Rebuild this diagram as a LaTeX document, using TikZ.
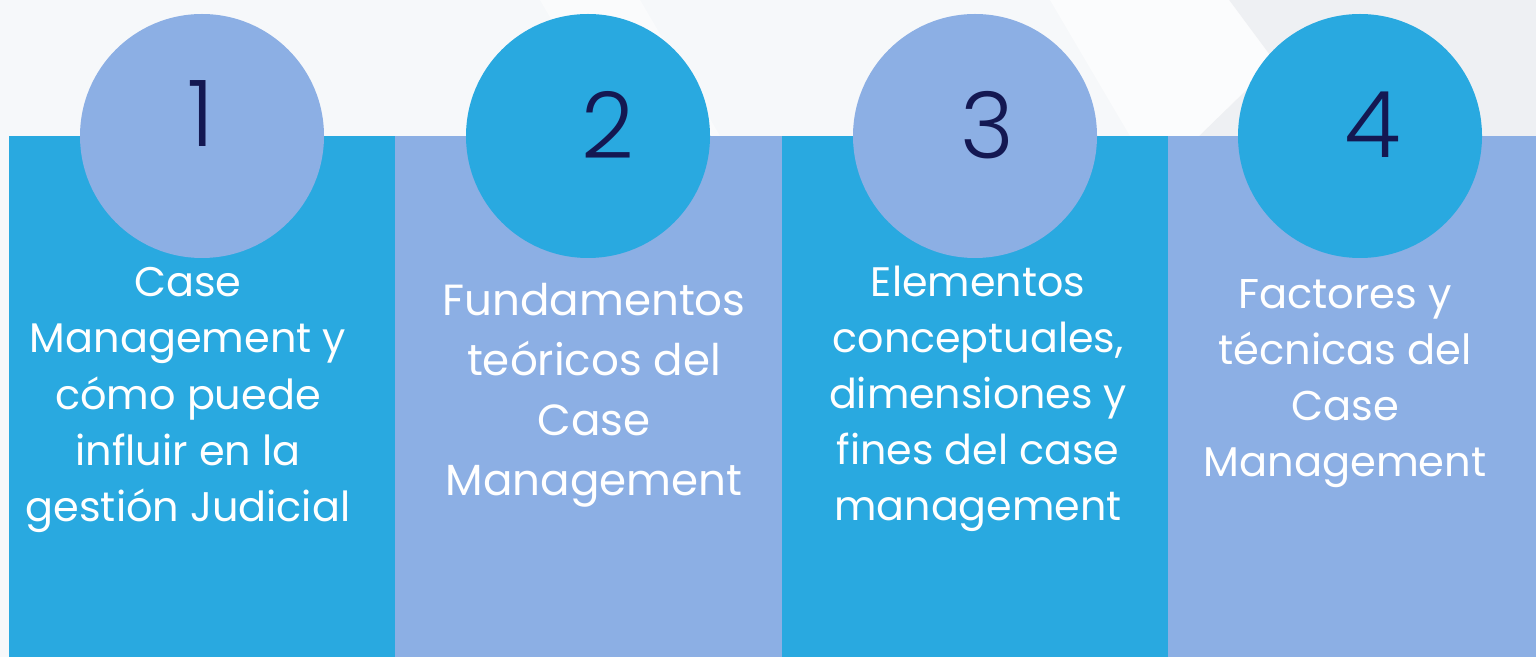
\documentclass[tikz,border=0pt]{standalone}
\usepackage{fontspec}
\setmainfont{Poppins}
\newfontfamily\numfont{Poppins Light}
\definecolor{bgc}{HTML}{F6F8FA}
\definecolor{bgd}{HTML}{EEF0F3}
\definecolor{bluec}{HTML}{29A9E0}
\definecolor{lightc}{HTML}{8CAFE4}
\definecolor{navy}{HTML}{141852}
\tikzset{
  colbox/.style={draw=none},
  numcirc/.style={circle, draw=none, minimum size=244*0.5pt, inner sep=0pt},
  numtxt/.style={text=navy, font=\numfont\fontsize{46}{46}\selectfont, inner sep=0pt},
  coltxt/.style={text=white, align=center, inner sep=0pt},
}
\begin{document}
\begin{tikzpicture}[x=0.5pt,y=-0.5pt]
\useasboundingbox (0,0) rectangle (1536,657);
\fill[bgc] (0,0) rectangle (1536,657);
% subtle background shapes
\fill[white,opacity=0.5] (540,0) -- (640,0) -- (720,136) -- (620,136) -- cycle;
\fill[bgd] (1229,0) -- (1536,0) -- (1536,136) -- (1199,136) -- (1275,62) -- cycle;
\fill[white,opacity=0.6] (1050,0) -- (1229,0) -- (1275,62) -- (1199,136) -- (1130,136) -- cycle;
% columns
\fill[bluec] (9,136) rectangle (395,657);
\fill[lightc] (395,136) rectangle (782,657);
\fill[bluec] (782,136) rectangle (1168,657);
\fill[lightc] (1168,136) rectangle (1536,657);
% circles
\node[numcirc, fill=lightc] (c1) at (202,136) {};
\node[numcirc, fill=bluec] (c2) at (588,136) {};
\node[numcirc, fill=lightc] (c3) at (975,136) {};
\node[numcirc, fill=bluec] (c4) at (1360,136) {};
\node[numtxt] (n1) at (201,114) {1};
\node[numtxt] (n2) at (608,125) {2};
\node[numtxt] (n3) at (987,125) {3};
\node[numtxt] (n4) at (1373,125) {4};
% texts
\node[coltxt, font=\fontsize{20.7}{28.2}\selectfont] (t1) at (188,400) {Case\\Management y\\cómo puede\\influir en la\\gestión Judicial};
\node[coltxt, font=\fontsize{21.8}{30}\selectfont] (t2) at (594,395) {Fundamentos\\teóricos del\\Case\\Management};
\node[coltxt, font=\fontsize{20.6}{28}\selectfont] (t3) at (978,399) {Elementos\\conceptuales,\\dimensiones y\\fines del case\\management};
\node[coltxt, font=\fontsize{20.8}{28}\selectfont] (t4) at (1345,384) {Factores y\\técnicas del\\Case\\Management};
\end{tikzpicture}
\end{document}
